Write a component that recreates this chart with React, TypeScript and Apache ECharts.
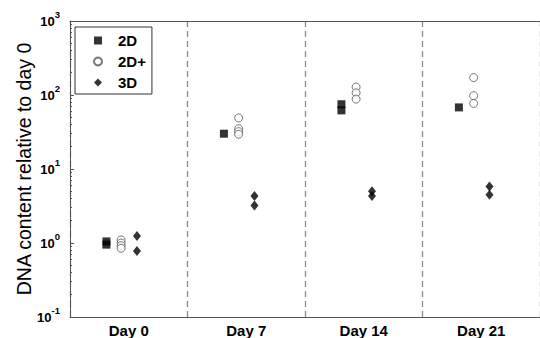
import React, { useEffect, useRef } from "react";
import * as echarts from "echarts";

const categories = ["Day 0", "Day 7", "Day 14", "Day 21"];
const seriesNames = ["2D", "2D+", "3D"];
// replicate values per category (relative DNA content)
const values2D = [[1.05, 0.95], [30], [75, 62], [68]];
const values2DPlus = [[1.1, 1.0, 0.92, 0.85], [49, 35, 32, 29.5], [128, 107, 88], [172, 98, 77]];
const values3D = [[1.24, 0.78], [4.3, 3.2], [5.0, 4.3], [5.8, 4.5]];
const offsets = [-0.19, -0.065, 0.07];
const yTickExponents = [-1, 0, 1, 2, 3];
const yTitle = "DNA content relative to day 0";

const FONT = "'Liberation Sans', Arial, sans-serif";

function toPoints(vals: number[][], off: number) {
  const pts: number[][] = [];
  vals.forEach((arr, i) => arr.forEach((v) => pts.push([i + off, v])));
  return pts;
}

export default function App() {
  const ref = useRef<HTMLDivElement>(null);
  useEffect(() => {
    if (!ref.current) return;
    const chart = echarts.init(ref.current, undefined, { renderer: "svg" });
    const axisColor = "#555";
    chart.setOption({
      animation: false,
      backgroundColor: "#fff",
      textStyle: { fontFamily: FONT },
      grid: { left: 70, right: -2, top: 21, bottom: 21, containLabel: false },
      graphic: [
        {
          type: "text",
          x: 24,
          y: 169,
          rotation: Math.PI / 2,
          style: {
            text: yTitle,
            fontSize: 19.5,
            fontFamily: FONT,
            fill: "#000",
            align: "center",
            verticalAlign: "middle",
          },
        },
      ],
      legend: {
        data: seriesNames,
        orient: "vertical",
        left: 75,
        top: 27,
        backgroundColor: "#fff",
        borderColor: "#333",
        borderWidth: 1,
        borderRadius: 0,
        padding: [6, 6, 4, 18],
        itemGap: 6,
        itemWidth: 8,
        itemHeight: 8,
        textStyle: {
          fontFamily: FONT,
          fontSize: 15,
          fontWeight: "bold",
          color: "#000",
          lineHeight: 14,
          padding: [0, 0, 0, 11],
        },
      },
      xAxis: [
        {
          type: "category",
          data: categories,
          position: "bottom",
          boundaryGap: true,
          axisLine: { onZero: false, lineStyle: { color: axisColor, width: 1 } },
          axisTick: { inside: true, alignWithLabel: true, length: 4, lineStyle: { color: axisColor } },
          axisLabel: { interval: 0, margin: 6, color: "#000", fontSize: 15, fontWeight: "bold", fontFamily: FONT },
          splitLine: { show: true, interval: 0, lineStyle: { type: [6, 4], color: "#8a8a8a", width: 1.3 } },
        },
        {
          type: "category",
          data: categories,
          position: "top",
          boundaryGap: true,
          axisLine: { onZero: false, lineStyle: { color: axisColor, width: 1 } },
          axisTick: { inside: true, alignWithLabel: true, length: 4, lineStyle: { color: axisColor } },
          axisLabel: { show: false },
          splitLine: { show: false },
        },
        { type: "value", min: -0.5, max: 3.5, show: false },
      ],
      yAxis: {
        type: "log",
        logBase: 10,
        min: 0.1,
        max: 1000,
        axisLine: { show: true, onZero: false, lineStyle: { color: axisColor, width: 1 } },
        axisTick: { show: true, inside: true, length: 4, lineStyle: { color: axisColor } },
        minorTick: { show: true, splitNumber: 9, length: 2, lineStyle: { color: axisColor } },
        splitLine: { show: false },
        axisLabel: {
          margin: 10,
          formatter: (v: number) => {
            const e = Math.round(Math.log10(v));
            if (!yTickExponents.includes(e)) return "";
            return `{b|10}{s|${e}}`;
          },
          rich: {
            b: { fontSize: 13, fontWeight: "bold", color: "#000", fontFamily: FONT, lineHeight: 24, verticalAlign: "middle" },
            s: { fontSize: 9.5, fontWeight: "bold", color: "#000", fontFamily: FONT, lineHeight: 9, verticalAlign: "top" },
          },
        },
      },
      series: [
        {
          name: "2D",
          type: "scatter",
          xAxisIndex: 2,
          symbol: "rect",
          symbolSize: 8,
          itemStyle: { color: "#000" },
          data: toPoints(values2D, offsets[0]),
        },
        {
          name: "2D+",
          type: "scatter",
          xAxisIndex: 2,
          symbol: "circle",
          symbolSize: 8,
          itemStyle: { color: "#fff", borderColor: "#555", borderWidth: 1 },
          data: toPoints(values2DPlus, offsets[1]),
        },
        {
          name: "3D",
          type: "scatter",
          xAxisIndex: 2,
          symbol: "diamond",
          symbolSize: [8, 10],
          itemStyle: { color: "#000" },
          data: toPoints(values3D, offsets[2]),
        },
      ],
    });
    return () => chart.dispose();
  }, []);
  return <div ref={ref} style={{ position: "fixed", left: 0, top: 0, width: 540, height: 338 }} />;
}
